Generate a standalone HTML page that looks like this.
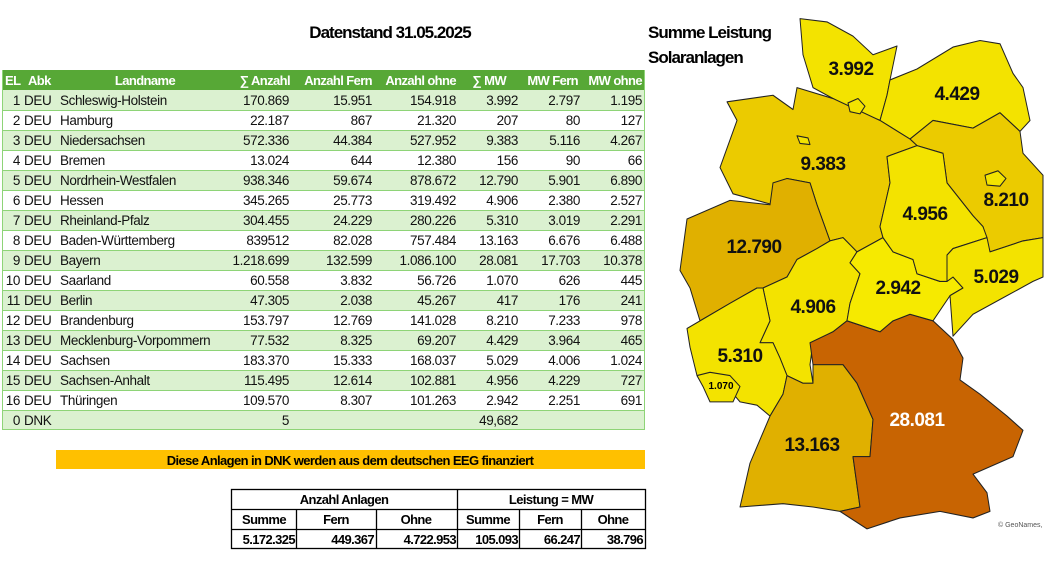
<!DOCTYPE html>
<html><head><meta charset="utf-8"><style>
html,body{margin:0;padding:0;background:#fff;width:1046px;height:571px;overflow:hidden}
svg{display:block;font-family:"Liberation Sans",Arial,sans-serif}
.t{font-size:13.5px;fill:#111;letter-spacing:-0.4px}
.h{font-size:13px;fill:#fff;font-weight:bold;letter-spacing:-0.6px}
.b{font-size:13px;fill:#000;font-weight:bold;letter-spacing:-0.6px}
.m{font-size:19px;font-weight:bold;fill:#111;letter-spacing:-0.5px;text-anchor:middle}
</style></head><body>
<svg width="1046" height="571" viewBox="0 0 1046 571" xmlns="http://www.w3.org/2000/svg">
<text x="390" y="38" text-anchor="middle" style="font-size:17px;font-weight:bold;letter-spacing:-1px">Datenstand 31.05.2025</text>
<text x="648" y="38" style="font-size:17px;font-weight:bold;letter-spacing:-1px">Summe Leistung</text>
<text x="648" y="63" style="font-size:17px;font-weight:bold;letter-spacing:-1px">Solaranlagen</text>

<!-- table -->
<rect x="2" y="70" width="643" height="20" fill="#57a836"/>
<g fill="#dbf1d0">
<rect x="2" y="90" width="643" height="20"/><rect x="2" y="130" width="643" height="20"/><rect x="2" y="170" width="643" height="20"/><rect x="2" y="210" width="643" height="20"/><rect x="2" y="250" width="643" height="20"/><rect x="2" y="290" width="643" height="20"/><rect x="2" y="330" width="643" height="20"/><rect x="2" y="370" width="643" height="20"/><rect x="2" y="410" width="643" height="20"/>
</g>
<g stroke="#8ed477" stroke-width="1">
<line x1="2" y1="110.5" x2="645" y2="110.5"/><line x1="2" y1="130.5" x2="645" y2="130.5"/><line x1="2" y1="150.5" x2="645" y2="150.5"/><line x1="2" y1="170.5" x2="645" y2="170.5"/><line x1="2" y1="190.5" x2="645" y2="190.5"/><line x1="2" y1="210.5" x2="645" y2="210.5"/><line x1="2" y1="230.5" x2="645" y2="230.5"/><line x1="2" y1="250.5" x2="645" y2="250.5"/><line x1="2" y1="270.5" x2="645" y2="270.5"/><line x1="2" y1="290.5" x2="645" y2="290.5"/><line x1="2" y1="310.5" x2="645" y2="310.5"/><line x1="2" y1="330.5" x2="645" y2="330.5"/><line x1="2" y1="350.5" x2="645" y2="350.5"/><line x1="2" y1="370.5" x2="645" y2="370.5"/><line x1="2" y1="390.5" x2="645" y2="390.5"/><line x1="2" y1="410.5" x2="645" y2="410.5"/><line x1="2" y1="429.5" x2="645" y2="429.5"/>
<line x1="2.5" y1="70" x2="2.5" y2="430"/><line x1="644.5" y1="70" x2="644.5" y2="430"/>
</g>
<g class="h">
<text x="5" y="85">EL</text><text x="28" y="85">Abk</text><text x="145" y="85" text-anchor="middle">Landname</text>
<g text-anchor="end"><text x="290" y="85">∑ Anzahl</text><text x="372" y="85">Anzahl Fern</text><text x="456" y="85">Anzahl ohne</text><text x="506" y="85">∑ MW</text><text x="578" y="85">MW Fern</text><text x="642" y="85">MW ohne</text></g>
</g>
<g class="t">
<g text-anchor="end">
<text x="20" y="105">1</text><text x="20" y="125">2</text><text x="20" y="145">3</text><text x="20" y="165">4</text><text x="20" y="185">5</text><text x="20" y="205">6</text><text x="20" y="225">7</text><text x="20" y="245">8</text><text x="20" y="265">9</text><text x="20" y="285">10</text><text x="20" y="305">11</text><text x="20" y="325">12</text><text x="20" y="345">13</text><text x="20" y="365">14</text><text x="20" y="385">15</text><text x="20" y="405">16</text><text x="20" y="425">0</text>
</g>
<text x="24" y="105">DEU</text><text x="24" y="125">DEU</text><text x="24" y="145">DEU</text><text x="24" y="165">DEU</text><text x="24" y="185">DEU</text><text x="24" y="205">DEU</text><text x="24" y="225">DEU</text><text x="24" y="245">DEU</text><text x="24" y="265">DEU</text><text x="24" y="285">DEU</text><text x="24" y="305">DEU</text><text x="24" y="325">DEU</text><text x="24" y="345">DEU</text><text x="24" y="365">DEU</text><text x="24" y="385">DEU</text><text x="24" y="405">DEU</text><text x="24" y="425">DNK</text>
<text x="60" y="105">Schleswig-Holstein</text><text x="60" y="125">Hamburg</text><text x="60" y="145">Niedersachsen</text><text x="60" y="165">Bremen</text><text x="60" y="185">Nordrhein-Westfalen</text><text x="60" y="205">Hessen</text><text x="60" y="225">Rheinland-Pfalz</text><text x="60" y="245">Baden-Württemberg</text><text x="60" y="265">Bayern</text><text x="60" y="285">Saarland</text><text x="60" y="305">Berlin</text><text x="60" y="325">Brandenburg</text><text x="60" y="345">Mecklenburg-Vorpommern</text><text x="60" y="365">Sachsen</text><text x="60" y="385">Sachsen-Anhalt</text><text x="60" y="405">Thüringen</text>
<g text-anchor="end">
<text x="289" y="105">170.869</text><text x="372" y="105">15.951</text><text x="456" y="105">154.918</text><text x="518" y="105">3.992</text><text x="580" y="105">2.797</text><text x="642" y="105">1.195</text>
<text x="289" y="125">22.187</text><text x="372" y="125">867</text><text x="456" y="125">21.320</text><text x="518" y="125">207</text><text x="580" y="125">80</text><text x="642" y="125">127</text>
<text x="289" y="145">572.336</text><text x="372" y="145">44.384</text><text x="456" y="145">527.952</text><text x="518" y="145">9.383</text><text x="580" y="145">5.116</text><text x="642" y="145">4.267</text>
<text x="289" y="165">13.024</text><text x="372" y="165">644</text><text x="456" y="165">12.380</text><text x="518" y="165">156</text><text x="580" y="165">90</text><text x="642" y="165">66</text>
<text x="289" y="185">938.346</text><text x="372" y="185">59.674</text><text x="456" y="185">878.672</text><text x="518" y="185">12.790</text><text x="580" y="185">5.901</text><text x="642" y="185">6.890</text>
<text x="289" y="205">345.265</text><text x="372" y="205">25.773</text><text x="456" y="205">319.492</text><text x="518" y="205">4.906</text><text x="580" y="205">2.380</text><text x="642" y="205">2.527</text>
<text x="289" y="225">304.455</text><text x="372" y="225">24.229</text><text x="456" y="225">280.226</text><text x="518" y="225">5.310</text><text x="580" y="225">3.019</text><text x="642" y="225">2.291</text>
<text x="289" y="245">839512</text><text x="372" y="245">82.028</text><text x="456" y="245">757.484</text><text x="518" y="245">13.163</text><text x="580" y="245">6.676</text><text x="642" y="245">6.488</text>
<text x="289" y="265">1.218.699</text><text x="372" y="265">132.599</text><text x="456" y="265">1.086.100</text><text x="518" y="265">28.081</text><text x="580" y="265">17.703</text><text x="642" y="265">10.378</text>
<text x="289" y="285">60.558</text><text x="372" y="285">3.832</text><text x="456" y="285">56.726</text><text x="518" y="285">1.070</text><text x="580" y="285">626</text><text x="642" y="285">445</text>
<text x="289" y="305">47.305</text><text x="372" y="305">2.038</text><text x="456" y="305">45.267</text><text x="518" y="305">417</text><text x="580" y="305">176</text><text x="642" y="305">241</text>
<text x="289" y="325">153.797</text><text x="372" y="325">12.769</text><text x="456" y="325">141.028</text><text x="518" y="325">8.210</text><text x="580" y="325">7.233</text><text x="642" y="325">978</text>
<text x="289" y="345">77.532</text><text x="372" y="345">8.325</text><text x="456" y="345">69.207</text><text x="518" y="345">4.429</text><text x="580" y="345">3.964</text><text x="642" y="345">465</text>
<text x="289" y="365">183.370</text><text x="372" y="365">15.333</text><text x="456" y="365">168.037</text><text x="518" y="365">5.029</text><text x="580" y="365">4.006</text><text x="642" y="365">1.024</text>
<text x="289" y="385">115.495</text><text x="372" y="385">12.614</text><text x="456" y="385">102.881</text><text x="518" y="385">4.956</text><text x="580" y="385">4.229</text><text x="642" y="385">727</text>
<text x="289" y="405">109.570</text><text x="372" y="405">8.307</text><text x="456" y="405">101.263</text><text x="518" y="405">2.942</text><text x="580" y="405">2.251</text><text x="642" y="405">691</text>
<text x="289" y="425">5</text><text x="518" y="425">49,682</text>
</g>
</g>

<!-- banner -->
<rect x="56" y="450" width="589" height="19" fill="#ffc000"/>
<text x="350" y="465" text-anchor="middle" class="b">Diese Anlagen in DNK werden aus dem deutschen EEG finanziert</text>

<!-- summary table -->
<g stroke="#000" stroke-width="1.3" fill="none">
<rect x="231.5" y="489.5" width="414" height="59"/>
<line x1="231" y1="509.5" x2="645" y2="509.5"/><line x1="231" y1="529.5" x2="645" y2="529.5"/>
<line x1="457.5" y1="489" x2="457.5" y2="549"/>
<line x1="296.5" y1="509" x2="296.5" y2="549"/><line x1="376.5" y1="509" x2="376.5" y2="549"/><line x1="519.5" y1="509" x2="519.5" y2="549"/><line x1="581.5" y1="509" x2="581.5" y2="549"/>
</g>
<g class="b" text-anchor="middle">
<text x="344" y="504">Anzahl Anlagen</text><text x="551" y="504">Leistung = MW</text>
<text x="264" y="524">Summe</text><text x="336" y="524">Fern</text><text x="416" y="524">Ohne</text><text x="488" y="524">Summe</text><text x="550" y="524">Fern</text><text x="613" y="524">Ohne</text>
</g>
<g class="b" text-anchor="end">
<text x="295" y="544">5.172.325</text><text x="374" y="544">449.367</text><text x="456" y="544">4.722.953</text><text x="518" y="544">105.093</text><text x="580" y="544">66.247</text><text x="643" y="544">38.796</text>
</g>

<!-- map -->
<g stroke="#222" stroke-width="1" stroke-linejoin="round" transform="matrix(1,0,0,1.095,0,0)">
<polygon fill="#f3e300" points="800,17 827,20 853,33 873,50 897,42 890,73 887,87 880,110 853,100 833,90 813,80 803,50"/>
<polygon fill="#f3e300" points="890,73 917,63 953,43 980,37 1000,40 1013,67 1023,80 1030,110 1020,120 1000,103 973,117 933,110 910,127 880,110 887,87"/>
<polygon fill="#ebcb00" points="910,127 933,110 973,117 1000,103 1020,120 1023,140 1043,160 1043,217 1023,220 990,230 983,207 973,197 947,167 943,140 917,133"/>
<polygon fill="#ebcb00" points="797,80 833,90 880,110 910,127 917,133 887,143 890,167 880,207 883,217 857,230 843,217 830,220 817,187 810,167 787,163 773,187 733,177 720,153 737,110 727,93 773,87 793,100"/>
<polygon fill="#e0b000" points="687,200 730,183 770,187 773,167 787,163 810,167 817,187 830,220 817,227 797,237 787,253 763,263 757,263 730,277 700,293 690,263 680,247"/>
<polygon fill="#f3e300" points="797,237 817,227 830,220 843,217 857,230 850,240 860,250 850,277 847,293 833,303 813,313 810,333 813,350 803,350 787,343 780,327 773,313 760,313 770,293 763,263 787,253"/>
<polygon fill="#f3e300" points="700,293 730,277 757,263 763,263 770,293 760,313 773,313 780,327 787,343 783,360 770,380 757,370 740,367 727,353 710,363 697,343 690,317 687,300"/>
<polygon fill="#f3e300" points="697,343 710,340 730,343 740,353 733,367 710,367 703,353"/>
<polygon fill="#e0b000" points="787,343 803,350 813,350 813,333 833,333 843,333 857,350 873,383 870,417 853,417 860,463 840,467 813,463 783,460 740,463 750,423 770,380 783,360"/>
<polygon fill="#c86402" points="810,313 833,303 847,293 880,303 893,293 910,287 933,293 953,310 963,327 960,347 980,360 1007,380 1023,393 1013,417 973,433 987,450 990,467 973,473 940,467 900,473 867,483 840,467 860,463 853,417 870,417 873,383 857,350 843,333 813,333"/>
<polygon fill="#f6ea00" points="857,230 883,217 893,230 913,237 917,250 940,257 953,253 963,263 950,270 933,293 910,287 893,293 880,303 847,293 850,277 860,250 850,240"/>
<polygon fill="#f3e300" points="887,143 917,133 943,140 947,167 973,197 983,207 987,217 953,227 947,233 947,257 940,257 917,250 913,237 893,230 883,217 880,207 890,167"/>
<polygon fill="#f3e300" points="953,227 987,217 990,230 1023,220 1043,217 1043,253 1033,257 1007,270 973,287 953,307 950,270 963,263 953,253 947,257 947,233"/>
<polygon fill="#f3e300" points="985,160 998,156 1006,163 1000,170 987,169"/>
<polygon fill="#f3e300" points="848,94 858,90 865,97 860,104 850,102"/>
<polygon fill="#f3e300" points="797,124 808,126 810,132 800,131"/>
</g>
<text class="m" x="851" y="75">3.992</text>
<text class="m" x="957" y="100">4.429</text>
<text class="m" x="823" y="170">9.383</text>
<text class="m" x="1006" y="206">8.210</text>
<text class="m" x="925" y="220">4.956</text>
<text class="m" x="754" y="253">12.790</text>
<text class="m" x="996" y="283">5.029</text>
<text class="m" x="898" y="294">2.942</text>
<text class="m" x="813" y="313">4.906</text>
<text class="m" x="740" y="362">5.310</text>
<text x="721" y="389" text-anchor="middle" style="font-size:10px;font-weight:bold">1.070</text>
<text class="m" x="917" y="426" style="fill:#fff">28.081</text>
<text class="m" x="812" y="451">13.163</text>
<text x="998" y="527" style="font-size:7px;fill:#555">© GeoNames,</text>
</svg>
</body></html>
